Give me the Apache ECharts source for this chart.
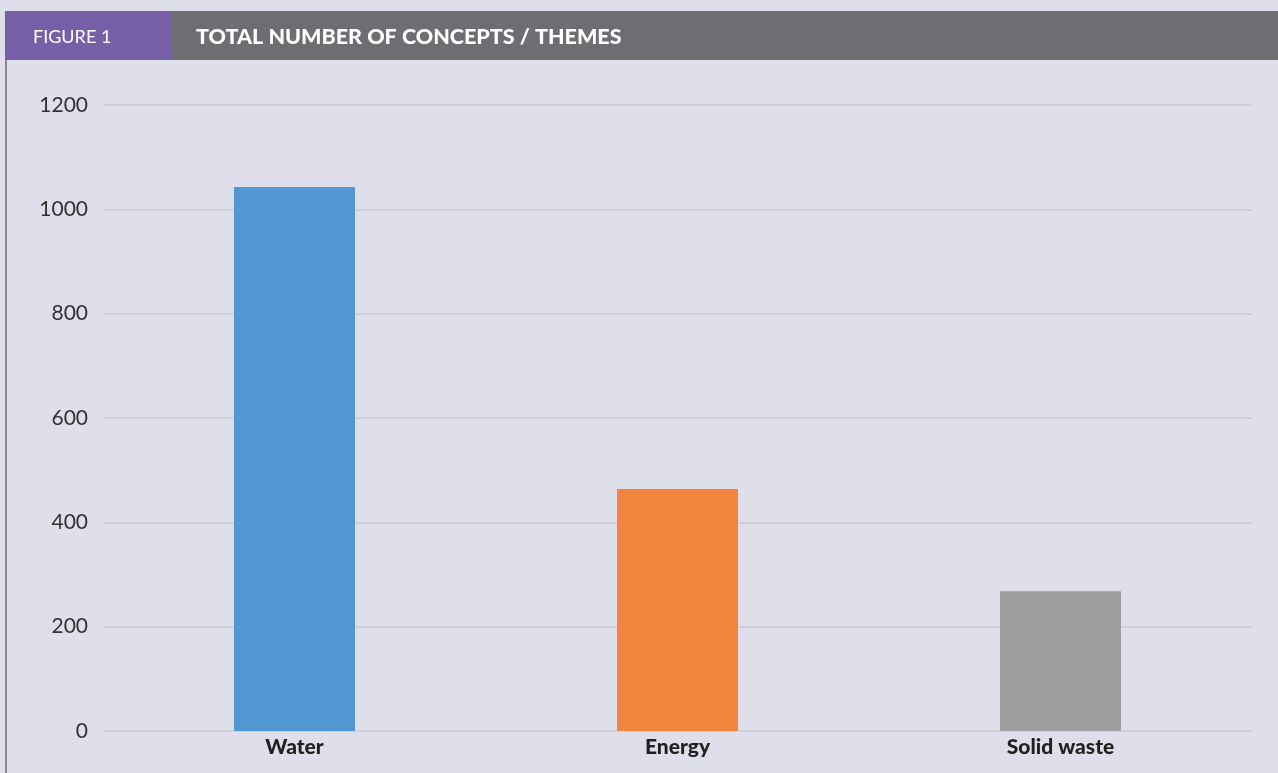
<!DOCTYPE html>
<html>
<head>
<meta charset="utf-8">
<title>Total number of concepts / themes</title>
<script src="https://cdn.jsdelivr.net/npm/echarts@6/dist/echarts.min.js"></script>
<style>
  html, body { margin: 0; padding: 0; background: #dfdeeb; }
  #main { width: 1278px; height: 773px; }
</style>
</head>
<body>
<div id="main"></div>
<script>
// data
const categories = ['Water', 'Energy', 'Solid waste']
const values = [1043, 464, 268]
const barColors = ['#5197d2', '#f3843d', '#9c9d9f']
const yTicks = [0, 200, 400, 600, 800, 1000, 1200]

const myChart = echarts.init(document.getElementById('main'))

myChart.setOption({
  backgroundColor: '#dfdeeb',
  animation: false,
  // header band + left border line
  graphic: [
    { type: 'rect', shape: { x: 5, y: 11, width: 1273, height: 49 }, style: { fill: '#6d6e71' } },
    { type: 'rect', shape: { x: 5, y: 11, width: 167, height: 49 }, style: { fill: '#775fa8' } },
    { type: 'rect', shape: { x: 5, y: 60, width: 2, height: 713 }, style: { fill: '#8a8a8e' } },
    {
      type: 'text', left: 33, top: 28,
      style: { text: 'FIGURE 1', fill: '#ffffff', font: '18px Lato' }
    },
    {
      type: 'text', left: 196, top: 26,
      style: { text: 'TOTAL NUMBER OF CONCEPTS / THEMES', fill: '#ffffff', font: '900 21.5px Lato' }
    }
  ],
  grid: {
    left: 103,
    right: 26,
    top: 105,
    bottom: 42
  },
  xAxis: {
    type: 'category',
    data: categories,
    axisLine: { show: false },
    axisTick: { show: false },
    axisLabel: {
      color: '#231f20',
      fontFamily: 'Lato',
      fontWeight: 900,
      fontSize: 21,
      margin: 6
    }
  },
  yAxis: {
    type: 'value',
    min: yTicks[0],
    max: yTicks[yTicks.length - 1],
    interval: 200,
    axisLine: { show: false },
    axisTick: { show: false },
    axisLabel: {
      color: '#333333',
      fontFamily: 'Lato',
      fontSize: 21,
      margin: 15,
      formatter: (v) => String(v)
    },
    splitLine: {
      lineStyle: { color: '#d0d0d5', width: 2 }
    }
  },
  series: [{
    type: 'bar',
    barWidth: 121,
    data: values.map((v, i) => ({ value: v, itemStyle: { color: barColors[i] } }))
  }]
})
</script>
</body>
</html>
